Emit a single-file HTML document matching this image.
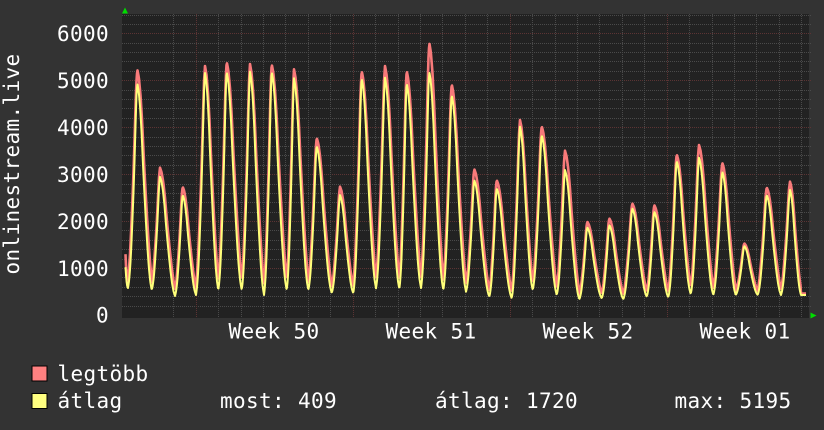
<!DOCTYPE html>
<html><head><meta charset="utf-8">
<style>
html,body{margin:0;padding:0;background:#333;width:824px;height:430px;overflow:hidden}
svg{display:block}
text{font-family:"DejaVu Sans Mono","Liberation Mono",monospace;font-size:21px;fill:#fff;letter-spacing:0.36px}
</style></head><body>
<svg id="s" width="824" height="430" viewBox="0 0 824 430" xmlns="http://www.w3.org/2000/svg">
<rect width="824" height="430" fill="#333"/>
<rect x="122" y="14" width="687" height="304" fill="#222"/>
<g id="grid" shape-rendering="crispEdges"></g>
<path id="red" fill="none" stroke="#f87a7a" stroke-width="2.6" stroke-linejoin="round"/>
<path id="yel" fill="none" stroke="#ffff7a" stroke-width="2" stroke-linejoin="round"/>
<polygon points="122,13.5 128,13.5 125,7.5" fill="#00dd00"/>
<polygon points="810.5,312.5 810.5,318.5 816.5,315.5" fill="#00dd00"/>

<text x="109" y="40.8" text-anchor="end">6000</text>
<text x="109" y="87.8" text-anchor="end">5000</text>
<text x="109" y="134.8" text-anchor="end">4000</text>
<text x="109" y="181.8" text-anchor="end">3000</text>
<text x="109" y="228.8" text-anchor="end">2000</text>
<text x="109" y="275.8" text-anchor="end">1000</text>
<text x="109" y="322.5" text-anchor="end">0</text>

<text transform="translate(19,164) rotate(-90)" text-anchor="middle">onlinestream.live</text>

<text x="228.5" y="338.5">Week 50</text>
<text x="385.5" y="338.5">Week 51</text>
<text x="542.5" y="338.5">Week 52</text>
<text x="699.5" y="338.5">Week 01</text>

<rect x="32" y="366" width="15" height="15" fill="#ff8080" stroke="#000" stroke-width="1"/>
<rect x="32" y="393.5" width="15" height="15" fill="#ffff80" stroke="#000" stroke-width="1"/>
<text x="57.5" y="381">legtöbb</text>
<text x="57.5" y="408">átlag</text>
<text x="220" y="408">most: 409</text>
<text x="435" y="408">átlag: 1720</text>
<text x="674.5" y="408">max: 5195</text>
</svg>
<script>
(function(){
var NS="http://www.w3.org/2000/svg";
var g=document.getElementById("grid");
function line(x1,y1,x2,y2,c){var l=document.createElementNS(NS,"line");l.setAttribute("x1",x1);l.setAttribute("y1",y1);l.setAttribute("x2",x2);l.setAttribute("y2",y2);l.setAttribute("stroke",c);l.setAttribute("stroke-width","1");l.setAttribute("stroke-dasharray","1,1");g.appendChild(l);}
for(var v=200;v<=6400;v+=200){var y=Math.round(315-v*0.04695)+0.5;if(y<14)continue;line(122,y,811,y,(v%1000===0)?"#5c3434":"#4a4a4a");}
for(var k=-1;k<=27;k++){var x=195.7+k*22.43;if(x<135||x>809)continue;x=Math.round(x)+0.5;line(x,14,x,318,(k%7===0)?"#5c3434":"#4a4a4a");}

var P=[[137.3,69.3,83.3],[160,167.7,176.7],[182.7,186.7,195],[205,66,73],[226.7,61.7,71.7],[250,64,71.7],[271.7,64,71.7],[294,69.3,78.3],[316.7,137.7,146],[340,186.7,195],[361.7,70.7,78.3],[385,66,77.7],[406.7,70.7,83.3],[429.3,42.7,71.7],[451.7,84,95],[474.3,169,180],[496.7,180,188.3],[520,120,126.7],[541.7,126,135],[565,150.7,170],[587.3,221.7,227.3],[609.3,218.3,225],[632.3,203.3,208.3],[654.3,205,211.7],[676.7,154.3,161],[699,145,157.7],[722.3,162.7,171.7],[744.3,243.3,246],[766.7,187.3,195],[790,181.7,190]];
var M=[[128,288],[151.7,290],[175,296],[196,295],[218.3,290],[241.7,290],[264,295],[286.7,290],[308.3,290],[331.7,293],[353.3,293.3],[376,288.3],[399.3,289],[421,288],[443.3,290],[466,291.7],[489.3,296.7],[511.7,298.3],[532.7,290],[556.7,295],[579.3,299.3],[601.7,298.3],[623.3,299.3],[646.7,296.7],[668.3,297.3],[690.7,294],[713.3,295],[735.7,295],[757.7,295],[781,295],[801,295]];
var L=[[0,1],[0.1,0.93],[0.2,0.78],[0.3,0.62],[0.4,0.48],[0.5,0.36],[0.6,0.25],[0.7,0.15],[0.8,0.08],[0.9,0.03],[1,0]];
var R=[[0,1],[0.1,0.96],[0.2,0.88],[0.3,0.76],[0.4,0.6],[0.5,0.46],[0.6,0.33],[0.7,0.21],[0.8,0.11],[0.9,0.04],[1,0]];
function tb(t,v){v=Math.max(0,Math.min(1,v));for(var i=1;i<t.length;i++){if(v<=t[i][0]){var a=t[i-1],b=t[i];return a[1]+(b[1]-a[1])*(v-a[0])/(b[0]-a[0]);}}return 0;}
function f(x,red){
  var off=red?1.5:0;
  if(x<M[0][0]){var s=red?240:258,e=M[0][1]-off;var t=(x-125)/(M[0][0]-125);t=1-(1-t)*(1-t);return s+(e-s)*t;}
  if(x>=M[30][0])return M[30][1]-off;
  var i=0;while(i<29&&x>M[i+1][0])i++;
  var p=P[i],pk=red?p[1]:p[2],sc=red?1.12:1,m,b,v;
  if(x<=p[0]){m=M[i];b=m[1]-off;v=(p[0]-x)/(p[0]-m[0])/sc;return b-tb(L,v)*(b-pk);}
  m=M[i+1];b=m[1]-off;v=(x-p[0])/(m[0]-p[0])/sc;return b-tb(R,v)*(b-pk);
}
function build(red){var d="";for(var x=125.5;x<=806;x+=0.5){d+=(d?"L":"M")+x.toFixed(1)+","+f(x,red).toFixed(2);}return d;}
document.getElementById("red").setAttribute("d",build(true));
document.getElementById("yel").setAttribute("d",build(false));
})();
</script>
</body></html>
